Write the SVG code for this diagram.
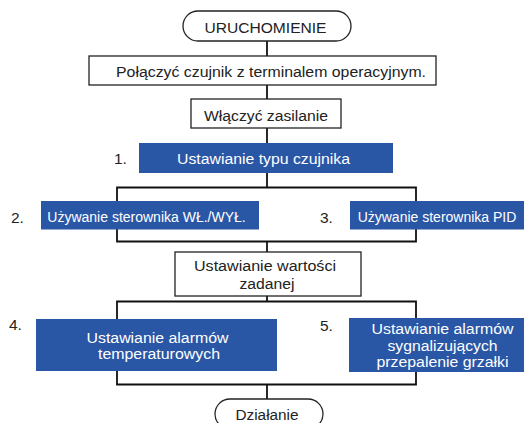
<svg xmlns="http://www.w3.org/2000/svg" width="526" height="423" viewBox="0 0 526 423">
<style>
text{font-family:"Liberation Sans",Arial,sans-serif;font-size:15.5px;fill:#222}
.c{text-anchor:middle}
.w{fill:#fff}
.s{font-size:14px}
.box{fill:#fff;stroke:#222;stroke-width:1.3}
.blue{fill:#2a56a6}
.ln{fill:none;stroke:#111;stroke-width:1.8}
</style>
<rect width="526" height="423" fill="#fff"/>
<g id="connectors">
<line class="ln" x1="267" y1="41" x2="267" y2="56"/>
<line class="ln" x1="267" y1="85" x2="267" y2="99"/>
<line class="ln" x1="267" y1="128" x2="267" y2="143"/>
<line class="ln" x1="267" y1="173" x2="267" y2="187.5"/>
<polyline class="ln" points="117,201 117,187.5 416,187.5 416,201"/>
<polyline class="ln" points="117,229 117,241.5 416,241.5 416,229"/>
<line class="ln" x1="267" y1="241.5" x2="267" y2="252"/>
<line class="ln" x1="267" y1="296" x2="267" y2="301.5"/>
<polyline class="ln" points="117,319 117,301.5 416,301.5 416,318"/>
<polyline class="ln" points="117,371 117,384.5 416,384.5 416,372"/>
<line class="ln" x1="267" y1="384.5" x2="267" y2="399"/>
</g>
<g id="start">
<rect class="box" x="183" y="11" width="168" height="30" rx="15"/>
<text class="c" x="265.5" y="33" textLength="122" lengthAdjust="spacingAndGlyphs">URUCHOMIENIE</text>
</g>
<g id="connect">
<rect class="box" x="89" y="56" width="347" height="29"/>
<text class="c" x="271" y="77" textLength="310" lengthAdjust="spacingAndGlyphs">Połączyć czujnik z terminalem operacyjnym.</text>
</g>
<g id="power">
<rect class="box" x="191" y="99" width="150" height="29"/>
<text class="c" x="266" y="120.5" textLength="124" lengthAdjust="spacingAndGlyphs">Włączyć zasilanie</text>
</g>
<g id="step1">
<text x="114" y="163.5">1.</text>
<rect class="blue" x="139" y="143" width="254" height="30"/>
<text class="c w" x="263.5" y="163.5" textLength="173" lengthAdjust="spacingAndGlyphs">Ustawianie typu czujnika</text>
</g>
<g id="step2">
<text x="11" y="222.5">2.</text>
<rect class="blue" x="41" y="201" width="218" height="28.5"/>
<text class="c w s" x="146.5" y="222">Używanie sterownika WŁ./WYŁ.</text>
</g>
<g id="step3">
<text x="320" y="222.5">3.</text>
<rect class="blue" x="350" y="201" width="174" height="28.5"/>
<text class="c w s" x="437" y="222">Używanie sterownika PID</text>
</g>
<g id="setpoint">
<rect class="box" x="175" y="252" width="186" height="44"/>
<text class="c" x="265" y="270.5" textLength="142" lengthAdjust="spacingAndGlyphs">Ustawianie wartości</text>
<text class="c" x="267" y="288.5" textLength="55" lengthAdjust="spacingAndGlyphs">zadanej</text>
</g>
<g id="step4">
<text x="9" y="330">4.</text>
<rect class="blue" x="36" y="319" width="241" height="52"/>
<text class="c w" x="157.5" y="342.5" textLength="142" lengthAdjust="spacingAndGlyphs">Ustawianie alarmów</text>
<text class="c w" x="159" y="359" textLength="122" lengthAdjust="spacingAndGlyphs">temperaturowych</text>
</g>
<g id="step5">
<text x="320" y="331">5.</text>
<rect class="blue" x="349" y="318" width="175" height="54"/>
<text class="c w" x="442.5" y="334" textLength="142" lengthAdjust="spacingAndGlyphs">Ustawianie alarmów</text>
<text class="c w" x="442.5" y="350.5" textLength="110" lengthAdjust="spacingAndGlyphs">sygnalizujących</text>
<text class="c w" x="442.5" y="366.5" textLength="132" lengthAdjust="spacingAndGlyphs">przepalenie grzałki</text>
</g>
<g id="end">
<rect class="box" x="215" y="399" width="108" height="30" rx="15"/>
<text class="c" x="267" y="420" textLength="63" lengthAdjust="spacingAndGlyphs">Działanie</text>
</g>
</svg>
